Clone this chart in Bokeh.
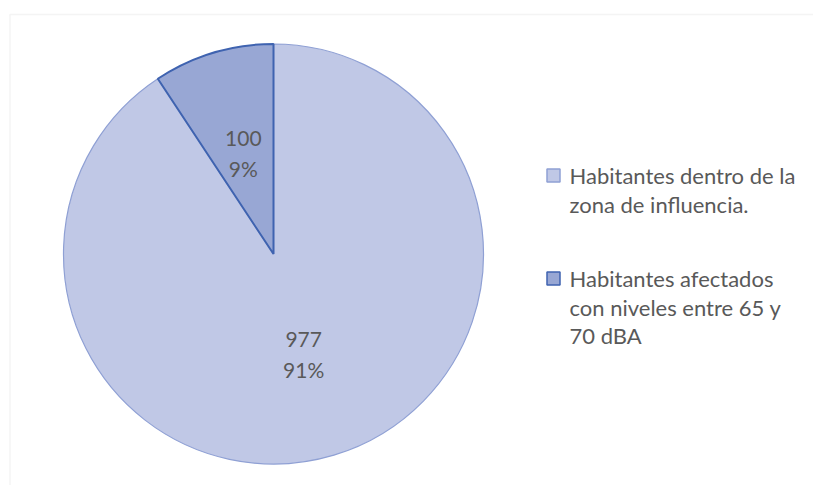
import math
from bokeh.plotting import figure
from bokeh.models import Range1d, BoxAnnotation, ColumnDataSource
from bokeh.core.properties import value
from bokeh.embed import file_html
from bokeh.resources import INLINE

# ---- data ----
categories = ["Habitantes dentro de la\nzona de influencia.",
              "Habitantes afectados\ncon niveles entre 65 y\n70 dBA"]
values = [977, 100]
fill_colors = ["#c0c8e6", "#98a7d4"]
edge_colors = ["#8fa0d4", "#3f63b0"]
edge_widths = [1.2, 2.0]

W, H = 813, 485
p = figure(width=W, height=H, output_backend="svg", toolbar_location=None,
           x_axis_location=None, y_axis_location=None, min_border=0,
           x_range=Range1d(0, W), y_range=Range1d(0, H))
p.outline_line_color = None
p.grid.visible = False
p.background_fill_color = "white"
p.border_fill_color = "white"

def Y(page_y):
    return H - page_y

# chart frame (top & left edges visible)
p.add_layout(BoxAnnotation(left=9.5, right=2000, top=Y(14), bottom=-2000,
                           fill_alpha=0, line_color="#d9d9d9", line_width=1.5))

cx, cy, r = 273, Y(253.5), 210
total = sum(values)
start = math.pi / 2
starts, ends, mids = [], [], []
for v in values:
    sweep = 2 * math.pi * v / total
    starts.append(start)
    ends.append(start - sweep)
    mids.append(start - sweep / 2)
    start -= sweep

src = ColumnDataSource(dict(x=[cx] * len(values), y=[cy] * len(values),
                            start=starts, end=ends, fill=fill_colors,
                            line=edge_colors, lw=edge_widths))
p.wedge(x="x", y="y", radius=r, start_angle="start", end_angle="end",
        direction="clock", fill_color="fill", line_color="line",
        line_width="lw", source=src)

# data labels (value on first line, percentage on second)
lx = [cx + 0.5 * r * math.cos(m) for m in mids]
ly = [cy + 0.5 * r * math.sin(m) for m in mids]
val_txt = [str(v) for v in values]
pct_txt = [f"{round(100 * v / total)}%" for v in values]
half_gap = 15
p.text(x=lx, y=[y + half_gap for y in ly], text=val_txt, text_align="center",
       text_baseline="middle", text_font=value("Lato"), text_font_size="21px",
       text_color="#595959")
p.text(x=lx, y=[y - half_gap for y in ly], text=pct_txt, text_align="center",
       text_baseline="middle", text_font=value("Lato"), text_font_size="21px",
       text_color="#595959")

# legend
leg_x = 546
leg_tops = [175, 278]
line_gap = 28.5
for i, cat in enumerate(categories):
    y0 = leg_tops[i]
    p.scatter(x=[leg_x + 7], y=[Y(y0)], marker="square", size=13,
              fill_color=fill_colors[i], line_color=edge_colors[i], line_width=1.5)
    lines = cat.split("\n")
    p.text(x=[leg_x + 23] * len(lines),
           y=[Y(y0 + k * line_gap) for k in range(len(lines))],
           text=lines, text_align="left", text_baseline="middle",
           text_font=value("Lato"), text_font_size="22px", text_color="#595959")

open("out.html", "w").write(file_html(p, INLINE))
